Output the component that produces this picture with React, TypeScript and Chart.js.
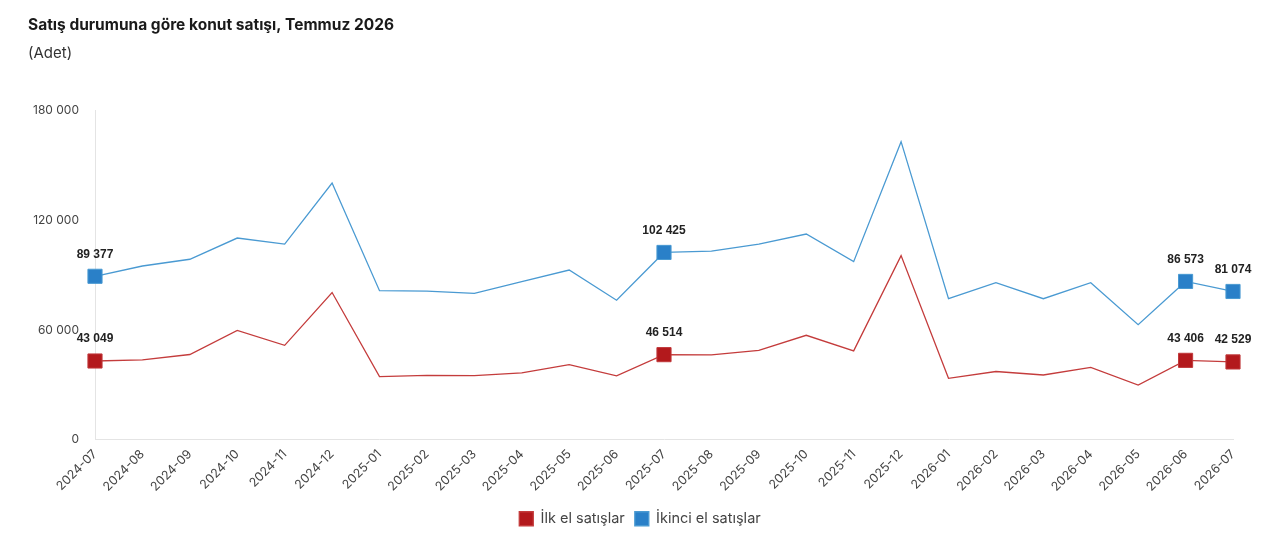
import React, { useEffect, useRef } from 'react';
import { Chart, registerables } from 'chart.js';

Chart.register(...registerables);

const months: string[] = [
  '2024-07', '2024-08', '2024-09', '2024-10', '2024-11', '2024-12',
  '2025-01', '2025-02', '2025-03', '2025-04', '2025-05', '2025-06',
  '2025-07', '2025-08', '2025-09', '2025-10', '2025-11', '2025-12',
  '2026-01', '2026-02', '2026-03', '2026-04', '2026-05', '2026-06', '2026-07',
];

// İlk el satışlar
const firstHand: number[] = [
  43049, 43650, 46600, 59800, 51600, 80500,
  34500, 35200, 35000, 36500, 41100, 34900,
  46514, 46400, 48800, 57100, 48600, 100700,
  33600, 37300, 35400, 39600, 29900, 43406, 42529,
];

// İkinci el satışlar
const secondHand: number[] = [
  89377, 95000, 98700, 110300, 107000, 140400,
  81500, 81300, 80000, 86400, 92800, 76300,
  102425, 103100, 107000, 112500, 97400, 163000,
  77100, 85900, 77100, 85900, 62900, 86573, 81074,
];

const yTicks: number[] = [0, 60000, 120000, 180000];

// points that get a square marker and a value label
const highlighted: number[] = [0, 12, 23, 24];

const fmt = (v: number) => String(Math.round(v)).replace(/\B(?=(\d{3})+(?!\d))/g, ' ');

const valueLabels = {
  id: 'valueLabels',
  afterDatasetsDraw(chart: Chart) {
    const { ctx } = chart;
    ctx.save();
    ctx.font = 'bold 12px "Liberation Sans", Arial, sans-serif';
    ctx.fillStyle = '#222';
    ctx.textAlign = 'center';
    ctx.textBaseline = 'middle';
    chart.data.datasets.forEach((ds, di) => {
      const meta = chart.getDatasetMeta(di);
      highlighted.forEach((i) => {
        const pt = meta.data[i];
        if (!pt) return;
        ctx.fillText(fmt(ds.data[i] as number), pt.x, pt.y - 22);
      });
    });
    ctx.restore();
  },
};

const App: React.FC = () => {
  const chartRef = useRef<HTMLCanvasElement>(null);

  useEffect(() => {
    document.body.style.margin = '0';
    let chartInstance: Chart | undefined;
    const ctx = chartRef.current?.getContext('2d');
    if (ctx) {
      const radius = (c: any) => (highlighted.includes(c.dataIndex) ? 10 : 0);
      chartInstance = new Chart(ctx, {
        type: 'line',
        data: {
          labels: months,
          datasets: [
            {
              label: 'İlk el satışlar',
              data: firstHand,
              borderColor: '#c43c3c',
              backgroundColor: '#b3191c',
              pointBackgroundColor: '#b3191c',
              pointBorderColor: '#c0393b',
              pointBorderWidth: 1,
              borderWidth: 1.3,
              pointStyle: 'rect',
              pointRadius: radius,
              pointHoverRadius: radius,
              tension: 0,
            },
            {
              label: 'İkinci el satışlar',
              data: secondHand,
              borderColor: '#4a9ad2',
              backgroundColor: '#2a80c8',
              pointBackgroundColor: '#2a80c8',
              pointBorderColor: '#4a9ad2',
              pointBorderWidth: 1,
              borderWidth: 1.3,
              pointStyle: 'rect',
              pointRadius: radius,
              pointHoverRadius: radius,
              tension: 0,
            },
          ],
        },
        options: {
          animation: false,
          responsive: true,
          maintainAspectRatio: false,
          layout: { padding: { left: 28, right: 28, top: 0, bottom: 13 } },
          plugins: {
            title: {
              display: true,
              text: 'Satış durumuna göre konut satışı, Temmuz 2026',
              align: 'start',
              color: '#1a1a1a',
              font: { family: 'Inter', size: 15.5, weight: 'bold' },
              padding: { top: 16, bottom: 10 },
            },
            subtitle: {
              display: true,
              text: '(Adet)',
              align: 'start',
              color: '#333',
              font: { family: 'Inter', size: 15, weight: 'normal' },
              padding: { top: 0, bottom: 48 },
            },
            legend: {
              position: 'bottom',
              labels: {
                boxWidth: 14,
                boxHeight: 14,
                color: '#444',
                font: { family: 'Inter', size: 14.5 },
                padding: 10,
              },
            },
            tooltip: { enabled: false },
          },
          scales: {
            x: {
              grid: { display: false, drawTicks: false },
              border: { display: true, color: '#e4e4e4' },
              ticks: {
                color: '#444',
                font: { family: 'Inter', size: 12.5 },
                maxRotation: 45,
                minRotation: 45,
                autoSkip: false,
                padding: 7,
              },
            },
            y: {
              min: yTicks[0],
              max: yTicks[yTicks.length - 1],
              afterBuildTicks: (axis: any) => {
                axis.ticks = yTicks.map((v) => ({ value: v }));
              },
              afterFit: (axis: any) => {
                axis.width = 67;
              },
              grid: { display: false, drawTicks: false },
              border: { display: true, color: '#e4e4e4' },
              ticks: {
                color: '#444',
                font: { family: 'Inter', size: 12 },
                padding: 16,
                callback: (v: any) => fmt(Number(v)),
              },
            },
            // empty right axis, only to keep space right of the plot
            spacer: {
              type: 'linear',
              position: 'right',
              grid: { display: false, drawTicks: false },
              border: { display: false },
              ticks: { display: false },
              afterFit: (axis: any) => {
                axis.width = 19;
              },
            },
          },
        },
        plugins: [valueLabels],
      });
    }
    return () => {
      if (chartInstance) chartInstance.destroy();
    };
  }, []);

  return (
    <div style={{ position: 'relative', width: 1280, height: 549, background: '#fff' }}>
      <canvas ref={chartRef} />
    </div>
  );
};

export default App;
